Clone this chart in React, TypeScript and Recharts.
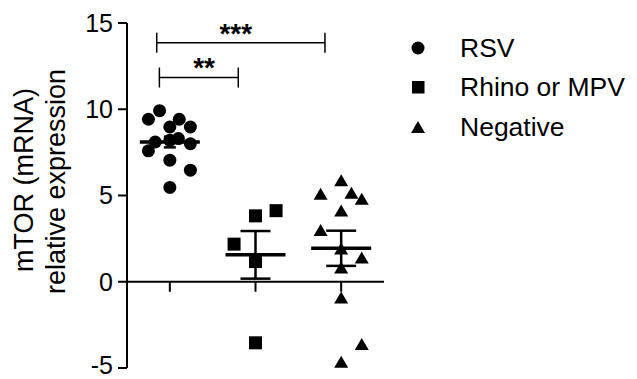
import React from 'react';
import {
  ScatterChart,
  Scatter,
  XAxis,
  YAxis,
  ReferenceLine,
  ReferenceDot,
  ErrorBar,
  Legend,
} from 'recharts';

// ---- data ----
const groupPositions = [1, 2, 3];
const groupNames = ['RSV', 'Rhino or MPV', 'Negative'];

const rsvOffsets = [-0.12, -0.25, 0.11, 0, 0.24, -0.25, 0, 0.24, 0, -0.17, 0.1, 0.24, 0];
const rsvValues = [9.92, 9.42, 9.42, 8.97, 8.97, 7.59, 7.05, 6.47, 5.47, 8.1, 8.3, 8.0, 8.2];

const rhinoOffsets = [0, 0.24, -0.25, 0, 0];
const rhinoValues = [3.82, 4.12, 2.18, 1.17, -3.54];

const negOffsets = [0, -0.24, 0.12, 0.24, 0, -0.24, 0.24, 0, 0, 0, 0.24, 0];
const negValues = [5.86, 5.07, 5.13, 4.78, 4.1, 2.97, 1.37, 0.79, 1.9, -0.94, -3.64, -4.66];

const groupMeans = [8.1, 1.56, 1.94];
const groupSems = [0.31, 1.38, 1.02];

const yTicks = [-5, 0, 5, 10, 15];

const bracketFrom = [0.847, 0.878];
const bracketTo = [2.811, 1.799];
const bracketY = [13.86, 11.84];
const sigLabelX = [1.77, 1.4];
const sigLabelY = [13.84, 11.87];
const sigLabelText = ['***', '**'];

// ---- build series ----
const toPoints = (pos: number, offs: number[], vals: number[]) =>
  vals.map((v, i) => ({ x: pos + offs[i], y: v }));

const rsvData = toPoints(groupPositions[0], rsvOffsets, rsvValues);
const rhinoData = toPoints(groupPositions[1], rhinoOffsets, rhinoValues);
const negData = toPoints(groupPositions[2], negOffsets, negValues);
const meanData = groupPositions.map((p, i) => [{ x: p, y: groupMeans[i], sem: groupSems[i] }]);

const FONT = '"Liberation Sans", Arial, Helvetica, sans-serif';
const CHART_H = 379;

const CircleShape = (p: any) => <circle cx={p.cx} cy={p.cy} r={6.5} fill="#000" />;
const SquareShape = (p: any) => (
  <rect x={p.cx - 6.5} y={p.cy - 6.5} width={13} height={13} fill="#000" />
);
const TriangleShape = (p: any) => (
  <polygon
    points={`${p.cx},${p.cy - 6.5} ${p.cx + 7},${p.cy + 5.5} ${p.cx - 7},${p.cy + 5.5}`}
    fill="#000"
  />
);
const MeanShape = (p: any) => (
  <line x1={p.cx - 30} y1={p.cy} x2={p.cx + 30} y2={p.cy} stroke="#000" strokeWidth={3.5} />
);
const XTickShape = (p: any) => (
  <line x1={p.cx} y1={p.cy} x2={p.cx} y2={p.cy + 10} stroke="#000" strokeWidth={2} />
);
const BracketEnd = (p: any) => (
  <line x1={p.cx} y1={p.cy - 10} x2={p.cx} y2={p.cy + 10} stroke="#000" strokeWidth={1.5} />
);
const makeSigLabel = (text: string) => (p: any) => (
  <text
    x={p.cx}
    y={p.cy}
    textAnchor="middle"
    fontSize={28}
    fontWeight="bold"
    fontFamily={FONT}
    fill="#000"
  >
    {text}
  </text>
);

const YTick = (p: any) => {
  const fs = 25;
  // keep the text box inside the picture at the bottom edge
  const baseline = Math.min(p.y + fs * 0.355, CHART_H - fs * 0.22);
  return (
    <text x={p.x} y={baseline} textAnchor="end" fontSize={fs} fontFamily={FONT} fill="#000">
      {p.payload.value}
    </text>
  );
};

const legendShapes = ['circle', 'square', 'triangle'];

const LegendIcon = ({ kind }: { kind: string }) => (
  <svg width={20} height={20} style={{ display: 'block' }}>
    {kind === 'circle' && <circle cx={10} cy={10} r={6.5} fill="#000" />}
    {kind === 'square' && <rect x={4} y={4} width={12.5} height={12.5} fill="#000" />}
    {kind === 'triangle' && <polygon points="10,4 17,16 3,16" fill="#000" />}
  </svg>
);

const renderLegend = () => (
  <div style={{ fontFamily: FONT }}>
    {groupNames.map((n, i) => (
      <div
        key={n}
        style={{ display: 'flex', alignItems: 'center', height: 39.5, whiteSpace: 'nowrap' }}
      >
        <LegendIcon kind={legendShapes[i]} />
        <span style={{ marginLeft: 32, fontSize: 26.5, color: '#000', lineHeight: '26px' }}>{n}</span>
      </div>
    ))}
  </div>
);

const renderYLabel = () => (
  <g>
    <text
      x={32.8}
      y={180}
      transform="rotate(-90, 32.8, 180)"
      textAnchor="middle"
      fontSize={27}
      fontFamily={FONT}
      fill="#000"
    >
      mTOR (mRNA)
    </text>
    <text
      x={64.5}
      y={181.5}
      transform="rotate(-90, 64.5, 181.5)"
      textAnchor="middle"
      fontSize={27}
      fontFamily={FONT}
      fill="#000"
    >
      relative expression
    </text>
  </g>
);

export default function App() {
  return (
    <div style={{ position: 'absolute', left: 0, top: 0, width: 637, height: CHART_H, background: '#fff' }}>
      <ScatterChart
        width={637}
        height={CHART_H}
        margin={{ top: 23, right: 253, bottom: 11, left: 0 }}
      >
        <XAxis type="number" dataKey="x" domain={[0.5, 3.5]} hide allowDataOverflow />
        <YAxis
          type="number"
          dataKey="y"
          domain={[-5, 15]}
          ticks={yTicks}
          interval={0}
          allowDataOverflow
          width={127}
          tickSize={9}
          tickMargin={5}
          axisLine={{ stroke: '#000', strokeWidth: 2 }}
          tickLine={{ stroke: '#000', strokeWidth: 2 }}
          tick={YTick}
          label={{ content: renderYLabel }}
        />
        <ReferenceLine y={0} stroke="#000" strokeWidth={2} ifOverflow="visible" />
        {groupPositions.map((p) => (
          <ReferenceDot key={'xt' + p} x={p} y={0} shape={XTickShape} ifOverflow="visible" />
        ))}
        {bracketY.map((y, i) => (
          <ReferenceLine
            key={'br' + i}
            segment={[
              { x: bracketFrom[i], y },
              { x: bracketTo[i], y },
            ]}
            stroke="#000"
            strokeWidth={1.5}
            ifOverflow="visible"
          />
        ))}
        {bracketY.map((y, i) => (
          <ReferenceDot key={'bl' + i} x={bracketFrom[i]} y={y} shape={BracketEnd} ifOverflow="visible" />
        ))}
        {bracketY.map((y, i) => (
          <ReferenceDot key={'bt' + i} x={bracketTo[i]} y={y} shape={BracketEnd} ifOverflow="visible" />
        ))}
        {sigLabelText.map((t, i) => (
          <ReferenceDot
            key={'sl' + i}
            x={sigLabelX[i]}
            y={sigLabelY[i]}
            shape={makeSigLabel(t)}
            ifOverflow="visible"
          />
        ))}
        <Scatter name={groupNames[0]} data={rsvData} shape={CircleShape} isAnimationActive={false} />
        <Scatter name={groupNames[1]} data={rhinoData} shape={SquareShape} isAnimationActive={false} />
        <Scatter name={groupNames[2]} data={negData} shape={TriangleShape} isAnimationActive={false} />
        {meanData.map((d, i) => (
          <Scatter
            key={'m' + i}
            data={d}
            shape={MeanShape}
            isAnimationActive={false}
            legendType="none"
          >
            <ErrorBar
              dataKey="sem"
              direction="y"
              width={i === 0 ? 6 : 15}
              stroke="#000"
              strokeWidth={2.5}
              isAnimationActive={false}
            />
          </Scatter>
        ))}
        <Legend
          content={renderLegend}
          layout="horizontal"
          verticalAlign="middle"
          align="center"
          wrapperStyle={{ position: 'absolute', left: 408, top: 28, width: 'auto', height: 'auto' }}
        />
      </ScatterChart>
    </div>
  );
}
